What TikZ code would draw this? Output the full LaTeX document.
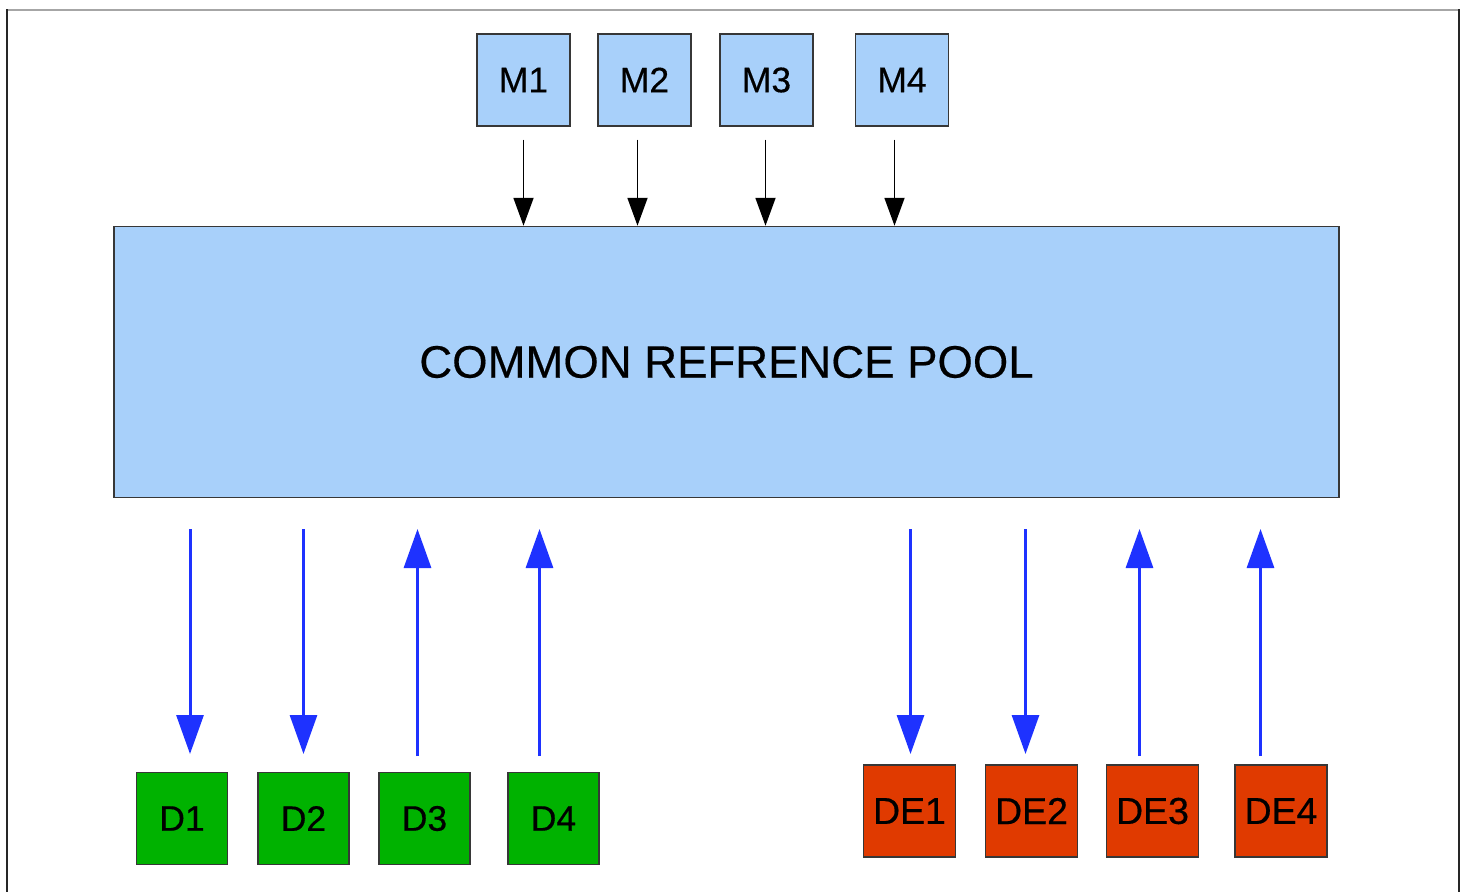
\documentclass[tikz,border=0pt]{standalone}
\usepackage{fontspec}
\setmainfont{Liberation Sans}
\newfontfamily\labelfont{Liberation Sans}[FakeBold=0.35]
\usetikzlibrary{arrows.meta}
\definecolor{poolblue}{RGB}{168,208,250}
\definecolor{dgreen}{RGB}{0,178,0}
\definecolor{dered}{RGB}{224,58,0}
\definecolor{flowblue}{RGB}{30,50,255}
\definecolor{edgegray}{RGB}{55,55,55}
\tikzset{
  box/.style={draw=edgegray, line width=1.5pt, inner sep=0pt, anchor=center,
    font=\labelfont\fontsize{35.5}{40}\selectfont},
  mbox/.style={box, fill=poolblue, minimum width=93pt, minimum height=92pt},
  dbox/.style={box, fill=dgreen, minimum width=91pt, minimum height=92pt},
  debox/.style={box, fill=dered, minimum width=92pt, minimum height=92pt,
    font=\labelfont\fontsize{37.5}{40}\selectfont},
  feed/.style={line width=1.8pt, black, -{Triangle[length=28pt,width=20pt]}},
  flow/.style={line width=3pt, flowblue, -{Triangle[length=39pt,width=27pt]}}
}
\begin{document}
\begin{tikzpicture}[x=1pt,y=-1pt]
\useasboundingbox (0,0) rectangle (1467,892);
\fill[white] (0,0) rectangle (1467,892);
% page frame
\draw[line width=2pt, gray!70] (6,9.5) -- (1459,9.5);
\draw[line width=2pt, black!85] (6.5,9) -- (6.5,892);
\draw[line width=2pt, black!85] (1459,9) -- (1459,892);

% shared pool
\node[draw=edgegray, line width=1.5pt, fill=poolblue, minimum width=1225pt,
  minimum height=271pt, inner sep=0pt, anchor=center,
  font=\labelfont\fontsize{45.5}{54}\selectfont] (pool) at (726.5,362) {COMMON REFRENCE POOL};

% top boxes
\node[mbox] (M1) at (523.5,80) {M1};
\node[mbox] (M2) at (644.5,80) {M2};
\node[mbox] (M3) at (766.5,80) {M3};
\node[mbox] (M4) at (902,80) {M4};

\coordinate (m1) at (523.5,139.5);
\coordinate (m2) at (637.5,139.5);
\coordinate (m3) at (765.5,139.5);
\coordinate (m4) at (894.5,139.5);
\foreach \i in {1,...,4}
  \draw[feed] (m\i) -- (m\i |- pool.north);

% bottom left boxes
\node[dbox] (D1) at (182,818.5) {D1};
\node[dbox] (D2) at (303.5,818.5) {D2};
\node[dbox] (D3) at (424.5,818.5) {D3};
\node[dbox] (D4) at (553.5,818.5) {D4};

% bottom right boxes
\node[debox] (DE1) at (909.5,811) {DE1};
\node[debox] (DE2) at (1031.5,811) {DE2};
\node[debox] (DE3) at (1152.5,811) {DE3};
\node[debox] (DE4) at (1281,811) {DE4};

% flow arrow ends
\coordinate (t1) at (190,529);   \coordinate (b1) at (190,754);
\coordinate (t2) at (303.5,529); \coordinate (b2) at (303.5,754);
\coordinate (t3) at (417.5,529); \coordinate (b3) at (417.5,756);
\coordinate (t4) at (539.5,529); \coordinate (b4) at (539.5,756);
\coordinate (t5) at (910.5,529); \coordinate (b5) at (910.5,754);
\coordinate (t6) at (1025.5,529); \coordinate (b6) at (1025.5,754);
\coordinate (t7) at (1139.5,529); \coordinate (b7) at (1139.5,756);
\coordinate (t8) at (1260.5,529); \coordinate (b8) at (1260.5,756);

% pool to stores
\draw[flow] (t1) -- (b1);
\draw[flow] (t2) -- (b2);
\draw[flow] (t5) -- (b5);
\draw[flow] (t6) -- (b6);
% stores to pool
\draw[flow] (b3) -- (t3);
\draw[flow] (b4) -- (t4);
\draw[flow] (b7) -- (t7);
\draw[flow] (b8) -- (t8);
\end{tikzpicture}
\end{document}
